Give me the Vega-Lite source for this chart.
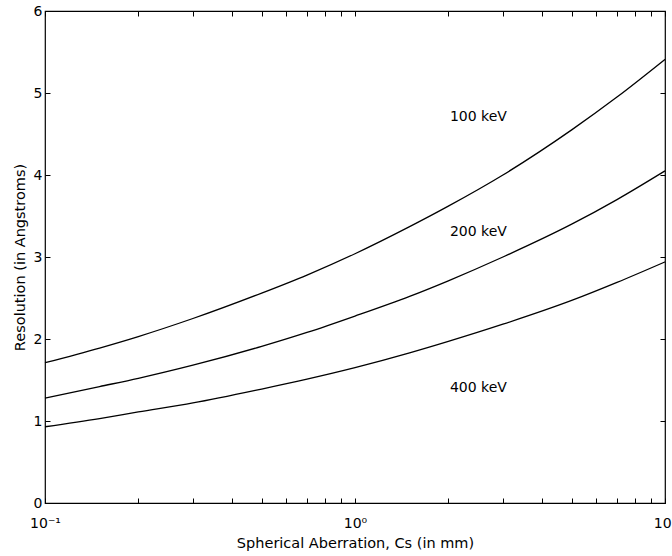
{
  "$schema": "https://vega.github.io/schema/vega-lite/v6.json",
  "autosize": "none",
  "width": 620,
  "height": 492,
  "padding": {"left": 45, "top": 11, "right": 7, "bottom": 53},
  "background": "white",
  "config": {
    "view": {"stroke": "black", "strokeWidth": 1.2},
    "font": "DejaVu Sans",
    "axis": {"grid": false, "domain": false, "tickColor": "black", "labelColor": "black", "titleColor": "black", "labelFont": "DejaVu Sans", "titleFont": "DejaVu Sans", "labelFontSize": 14, "titleFontSize": 14.5, "titleFontWeight": "normal"}
  },
  "datasets": {
    "curves": [
      {"cs": 0.1, "res": 1.71, "energy": "100 keV"},
      {"cs": 0.15, "res": 1.89, "energy": "100 keV"},
      {"cs": 0.2, "res": 2.03, "energy": "100 keV"},
      {"cs": 0.3, "res": 2.25, "energy": "100 keV"},
      {"cs": 0.5, "res": 2.56, "energy": "100 keV"},
      {"cs": 0.7, "res": 2.78, "energy": "100 keV"},
      {"cs": 1, "res": 3.04, "energy": "100 keV"},
      {"cs": 1.5, "res": 3.37, "energy": "100 keV"},
      {"cs": 2, "res": 3.62, "energy": "100 keV"},
      {"cs": 3, "res": 4.0, "energy": "100 keV"},
      {"cs": 5, "res": 4.55, "energy": "100 keV"},
      {"cs": 7, "res": 4.95, "energy": "100 keV"},
      {"cs": 10, "res": 5.41, "energy": "100 keV"},
      {"cs": 0.1, "res": 1.28, "energy": "200 keV"},
      {"cs": 0.15, "res": 1.42, "energy": "200 keV"},
      {"cs": 0.2, "res": 1.52, "energy": "200 keV"},
      {"cs": 0.3, "res": 1.68, "energy": "200 keV"},
      {"cs": 0.5, "res": 1.91, "energy": "200 keV"},
      {"cs": 0.7, "res": 2.08, "energy": "200 keV"},
      {"cs": 1, "res": 2.28, "energy": "200 keV"},
      {"cs": 1.5, "res": 2.52, "energy": "200 keV"},
      {"cs": 2, "res": 2.71, "energy": "200 keV"},
      {"cs": 3, "res": 3.0, "energy": "200 keV"},
      {"cs": 5, "res": 3.4, "energy": "200 keV"},
      {"cs": 7, "res": 3.7, "energy": "200 keV"},
      {"cs": 10, "res": 4.05, "energy": "200 keV"},
      {"cs": 0.1, "res": 0.93, "energy": "400 keV"},
      {"cs": 0.15, "res": 1.03, "energy": "400 keV"},
      {"cs": 0.2, "res": 1.11, "energy": "400 keV"},
      {"cs": 0.3, "res": 1.22, "energy": "400 keV"},
      {"cs": 0.5, "res": 1.39, "energy": "400 keV"},
      {"cs": 0.7, "res": 1.51, "energy": "400 keV"},
      {"cs": 1, "res": 1.65, "energy": "400 keV"},
      {"cs": 1.5, "res": 1.83, "energy": "400 keV"},
      {"cs": 2, "res": 1.97, "energy": "400 keV"},
      {"cs": 3, "res": 2.18, "energy": "400 keV"},
      {"cs": 5, "res": 2.47, "energy": "400 keV"},
      {"cs": 7, "res": 2.69, "energy": "400 keV"},
      {"cs": 10, "res": 2.94, "energy": "400 keV"}
    ],
    "labels": [
      {"cs": 2.5, "res": 4.71, "text": "100 keV"},
      {"cs": 2.5, "res": 3.3, "text": "200 keV"},
      {"cs": 2.5, "res": 1.4, "text": "400 keV"}
    ]
  },
  "layer": [
    {
      "data": {"name": "curves"},
      "mark": {"type": "line", "color": "black", "strokeWidth": 1.3, "interpolate": "monotone"},
      "encoding": {
        "x": {
          "field": "cs", "type": "quantitative",
          "scale": {"type": "log", "domain": [0.1, 10], "nice": false},
          "axis": {
            "orient": "bottom",
            "title": "Spherical Aberration, Cs (in mm)",
            "titlePadding": 6,
            "values": [0.1, 0.2, 0.3, 0.4, 0.5, 0.6, 0.7, 0.8, 0.9, 1, 2, 3, 4, 5, 6, 7, 8, 9, 10],
            "labelExpr": "datum.value == 0.1 ? '10⁻¹' : datum.value == 1 ? '10⁰' : datum.value == 10 ? '10¹' : ''",
            "tickSize": -5,
            "labelPadding": 18,
            "labelFlush": false,
            "labelOverlap": false
          }
        },
        "y": {
          "field": "res", "type": "quantitative",
          "scale": {"domain": [0, 6], "nice": false},
          "axis": {
            "orient": "left",
            "title": "Resolution (in Angstroms)",
            "titlePadding": 6,
            "values": [0, 1, 2, 3, 4, 5, 6],
            "tickSize": -5,
            "labelPadding": 8,
            "labelFlush": false
          }
        },
        "detail": {"field": "energy"}
      }
    },
    {
      "data": {"name": "labels"},
      "mark": {"type": "text", "color": "black", "fontSize": 14, "font": "DejaVu Sans", "align": "center", "baseline": "middle"},
      "encoding": {
        "x": {"field": "cs", "type": "quantitative", "scale": {"type": "log", "domain": [0.1, 10], "nice": false},
          "axis": {"orient": "top", "title": null, "labels": false, "values": [0.1, 0.2, 0.3, 0.4, 0.5, 0.6, 0.7, 0.8, 0.9, 1, 2, 3, 4, 5, 6, 7, 8, 9, 10], "tickSize": -5}},
        "y": {"field": "res", "type": "quantitative", "scale": {"domain": [0, 6], "nice": false},
          "axis": {"orient": "right", "title": null, "labels": false, "values": [0, 1, 2, 3, 4, 5, 6], "tickSize": -5}},
        "text": {"field": "text"}
      }
    }
  ],
  "resolve": {"axis": {"x": "independent", "y": "independent"}}
}
